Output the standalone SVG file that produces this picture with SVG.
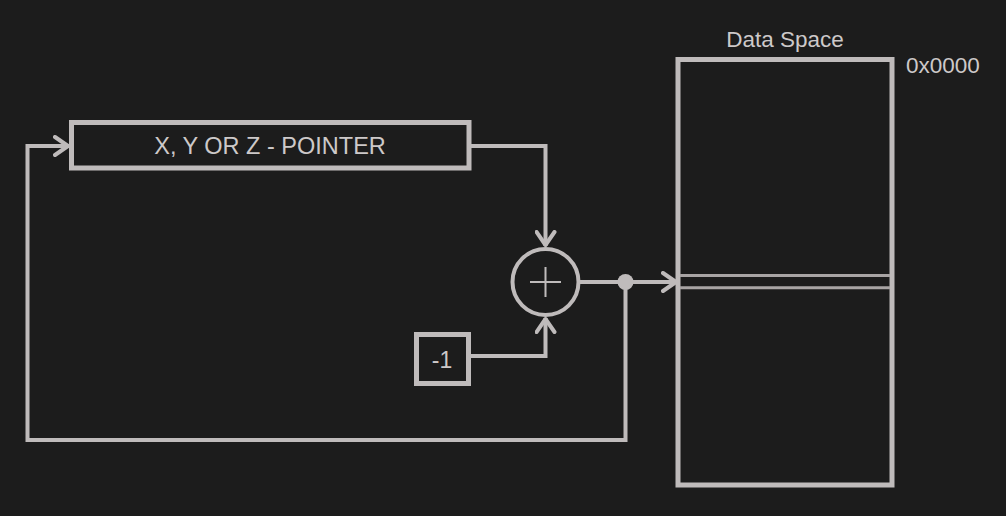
<svg xmlns="http://www.w3.org/2000/svg" width="1006" height="516" viewBox="0 0 1006 516">
<style>
.ln{fill:none;stroke:#bfbbbb;stroke-width:4;stroke-linejoin:miter}
.box{fill:none;stroke:#bfbbbb;stroke-width:5}
.txt{font-family:"Liberation Sans",Arial,sans-serif;fill:#cdc9c9}
</style>
<defs>
<marker id="arr" markerUnits="userSpaceOnUse" viewBox="0 0 18 22" refX="16" refY="11" markerWidth="18" markerHeight="22" orient="auto">
<path d="M2,2 L15,11 L2,20" fill="none" stroke="#bfbbbb" stroke-width="4" stroke-linejoin="round" stroke-linecap="round"/>
</marker>
</defs>
<rect width="1006" height="516" fill="#1c1c1c"/>
<g id="connectors">
<path class="ln" d="M471,146 H545.5 V246" marker-end="url(#arr)"/>
<path class="ln" d="M471,356 H545.5 V318" marker-end="url(#arr)"/>
<path class="ln" d="M580,282 H677" marker-end="url(#arr)"/>
<path class="ln" d="M625.5,282 V440 H27.5 V146 H69" marker-end="url(#arr)"/>
<circle cx="625.5" cy="282" r="8" fill="#bfbbbb"/>
</g>
<g id="pointer">
<rect class="box" x="71.5" y="122.5" width="397.5" height="45.5"/>
<text class="txt" x="270" y="153.5" font-size="23.5" text-anchor="middle">X, Y OR Z - POINTER</text>
</g>
<g id="adder">
<circle cx="545.5" cy="282" r="33" fill="none" stroke="#bfbbbb" stroke-width="4"/>
<path d="M530,282 H561 M545.5,267 V297" stroke="#bfbbbb" stroke-width="2" fill="none"/>
</g>
<g id="minus-one">
<rect class="box" x="416.5" y="334.5" width="52" height="49"/>
<text class="txt" x="442" y="367.5" font-size="23" text-anchor="middle">-1</text>
</g>
<g id="data-space">
<text class="txt" x="785" y="47" font-size="22.5" text-anchor="middle" fill="#b5b1b1">Data Space</text>
<rect class="box" x="678" y="59.5" width="214" height="425.5" stroke-width="5.5"/>
<path d="M680,275.5 H890 M680,287.7 H890" stroke="#a8a4a4" stroke-width="3" fill="none"/>
<text class="txt" x="906" y="73" font-size="22.5">0x0000</text>
</g>
</svg>
